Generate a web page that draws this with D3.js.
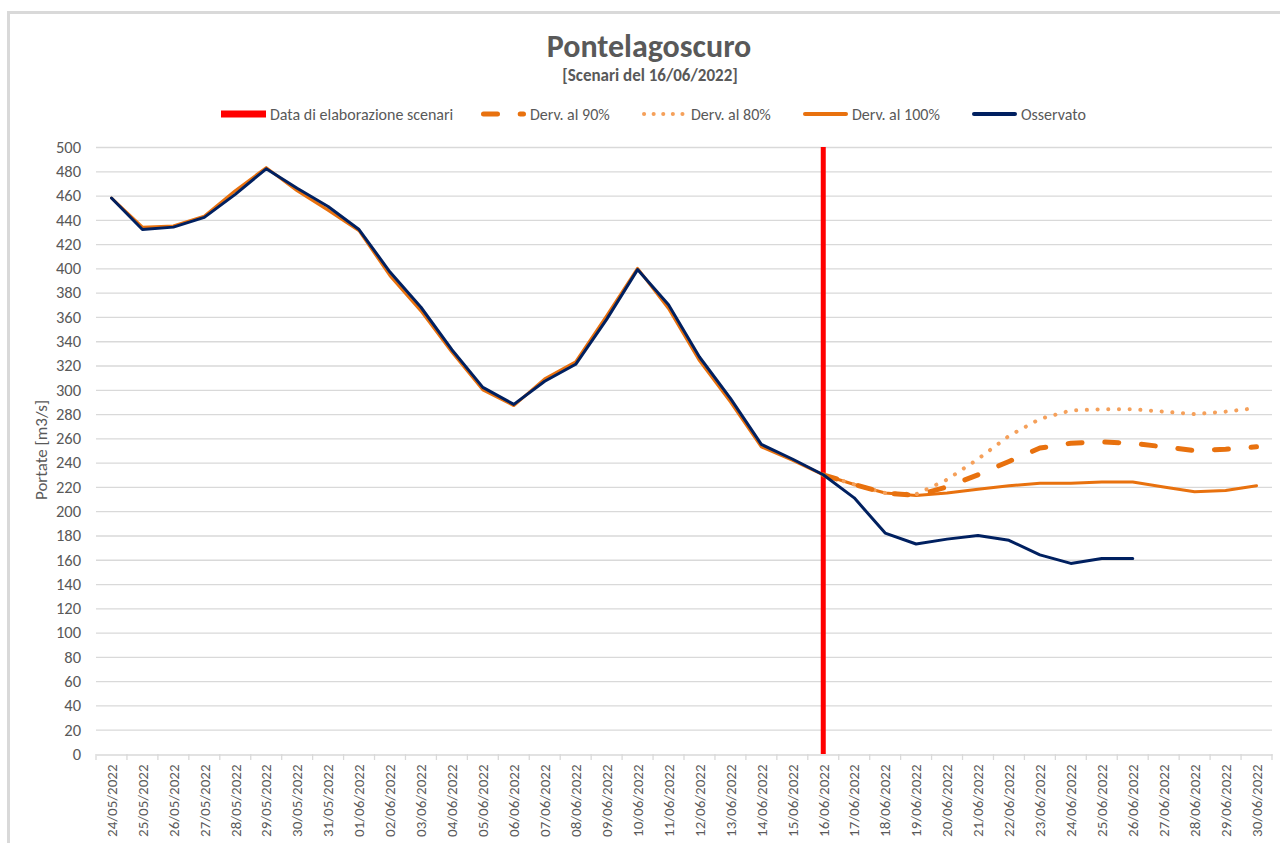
<!DOCTYPE html>
<html>
<head>
<meta charset="utf-8">
<script src="https://cdn.jsdelivr.net/npm/d3@7"></script>
<style>
    body { margin: 0; background: #fff; }
    #chart { width: 1280px; height: 843px; overflow: hidden; }
    text { font-family: Carlito, "Liberation Sans", Arial, sans-serif; fill: #595959; }
</style>
</head>
<body>
<div id="chart"></div>
<script>
"use strict";

// dates on the x axis
const dates = [
    "24/05/2022", "25/05/2022", "26/05/2022", "27/05/2022", "28/05/2022", "29/05/2022",
    "30/05/2022", "31/05/2022", "01/06/2022", "02/06/2022", "03/06/2022", "04/06/2022",
    "05/06/2022", "06/06/2022", "07/06/2022", "08/06/2022", "09/06/2022", "10/06/2022",
    "11/06/2022", "12/06/2022", "13/06/2022", "14/06/2022", "15/06/2022", "16/06/2022",
    "17/06/2022", "18/06/2022", "19/06/2022", "20/06/2022", "21/06/2022", "22/06/2022",
    "23/06/2022", "24/06/2022", "25/06/2022", "26/06/2022", "27/06/2022", "28/06/2022",
    "29/06/2022", "30/06/2022"
];

// portate [m3/s], null where there is no value
const osservato = [
    458, 432, 434, 442, 461, 482, 466, 451, 432, 397, 368, 333,
    302, 288, 307, 321, 358, 399, 370, 327, 293, 255, 243, 230,
    211, 182, 173, 177, 180, 176, 164, 157, 161, 161, null, null,
    null, null
];

const derv100 = [
    458, 434, 435, 443, 464, 483, 464, 448, 431, 394, 365, 331,
    300, 287, 309, 323, 361, 400, 367, 324, 290, 253, 242, 230,
    222, 215, 213, 215, 218, 221, 223, 223, 224, 224, 220, 216,
    217, 221
];

const derv90 = [
    null, null, null, null, null, null, null, null, null, null, null, null,
    null, null, null, null, null, null, null, null, null, null, null, 230,
    222, 215, 213, 220, 230, 241, 252, 256, 257, 256, 253, 250,
    251, 253
];

const derv80 = [
    null, null, null, null, null, null, null, null, null, null, null, null,
    null, null, null, null, null, null, null, null, null, null, null, 230,
    222, 215, 214, 226, 243, 262, 276, 283, 284, 284, 282, 280,
    282, 285
];

const dataElaborazione = "16/06/2022";
const yTicks = d3.range(0, 501, 20);
const legendNames = ["Data di elaborazione scenari", "Derv. al 90%", "Derv. al 80%", "Derv. al 100%", "Osservato"];

(function () {
    const width = 1280;
    const height = 843;
    const left = 96, right = 1272, top = 147, bottom = 754;

    const red = "#ff0000";
    const orange = "#e8710e";
    const lightOrange = "#f5a05a";
    const navy = "#002060";
    const grid = "#d9d9d9";

    const svg = d3.select("#chart")
        .append("svg")
        .attr("width", width)
        .attr("height", height);

    // outer frame of the chart
    svg.append("rect")
        .attr("x", 8.5)
        .attr("y", 12.5)
        .attr("width", 1300)
        .attr("height", 900)
        .attr("fill", "none")
        .attr("stroke", grid)
        .attr("stroke-width", 3);

    const x = d3.scaleBand().domain(dates).range([left, right]).padding(0);
    const y = d3.scaleLinear().domain([0, 500]).range([bottom, top]);
    const cx = d => x(d) + x.bandwidth() / 2;

    // gridlines
    svg.append("g")
        .selectAll("line")
        .data(yTicks.filter(v => v > 0))
        .enter()
        .append("line")
        .attr("x1", left)
        .attr("x2", right)
        .attr("y1", d => y(d) + 0.5)
        .attr("y2", d => y(d) + 0.5)
        .attr("stroke", grid)
        .attr("stroke-width", 1.3);

    // y axis labels
    const yAxis = d3.axisLeft(y).tickValues(yTicks).tickSize(0).tickPadding(15);
    const gy = svg.append("g")
        .attr("transform", `translate(${left},0)`)
        .call(yAxis);
    gy.select(".domain").remove();
    gy.selectAll("text")
        .style("font-size", "16.5px")
        .attr("fill", "#595959");

    // x axis
    const xAxis = d3.axisBottom(x).tickSize(0).tickPadding(0);
    const gx = svg.append("g")
        .attr("transform", `translate(0,${bottom + 0.5})`)
        .call(xAxis);
    gx.select(".domain").attr("stroke", grid).attr("stroke-width", 1.3);
    gx.selectAll(".tick text")
        .attr("transform", "rotate(-90)")
        .attr("x", -10)
        .attr("y", 0)
        .attr("dy", "0.35em")
        .style("text-anchor", "end")
        .style("font-size", "15px")
        .attr("fill", "#595959");

    // tick marks between categories
    svg.append("g")
        .selectAll("line")
        .data(dates.concat(["end"]))
        .enter()
        .append("line")
        .attr("x1", (d, i) => left + i * x.bandwidth())
        .attr("x2", (d, i) => left + i * x.bandwidth())
        .attr("y1", bottom)
        .attr("y2", bottom + 6)
        .attr("stroke", grid)
        .attr("stroke-width", 1.3);

    // vertical red line: scenario date
    svg.append("line")
        .attr("x1", cx(dataElaborazione))
        .attr("x2", cx(dataElaborazione))
        .attr("y1", y(500))
        .attr("y2", y(0))
        .attr("stroke", red)
        .attr("stroke-width", 5);

    const line = d3.line()
        .defined(d => d !== null)
        .x((d, i) => cx(dates[i]))
        .y(d => y(d));

    function addSeries(values, color, widthPx, dash) {
        const p = svg.append("path")
            .datum(values)
            .attr("d", line)
            .attr("fill", "none")
            .attr("stroke", color)
            .attr("stroke-width", widthPx)
            .attr("stroke-linejoin", "round")
            .attr("stroke-linecap", "round");
        if (dash) {
            p.attr("stroke-dasharray", dash);
        }
    }

    addSeries(derv100, orange, 3, null);
    addSeries(derv80, lightOrange, 4, "0.1,10.6");
    addSeries(derv90, orange, 5, "14,22.7");
    addSeries(osservato, navy, 3, null);

    // titles
    svg.append("text")
        .attr("x", 649)
        .attr("y", 57)
        .attr("text-anchor", "middle")
        .style("font-size", "32px")
        .style("font-weight", "bold")
        .text("Pontelagoscuro");

    svg.append("text")
        .attr("x", 650)
        .attr("y", 81)
        .attr("text-anchor", "middle")
        .style("font-size", "17px")
        .style("font-weight", "bold")
        .text("[Scenari del 16/06/2022]");

    // y axis title
    svg.append("text")
        .attr("transform", "translate(47,450)rotate(-90)")
        .attr("text-anchor", "middle")
        .style("font-size", "17px")
        .text("Portate [m3/s]");

    // legend
    const legendX = [221, 481, 642, 803, 972];
    const legendY = 114;
    const sampleW = 45;
    const legendStyle = [
        { color: red, w: 7, dash: null, cap: "butt" },
        { color: orange, w: 5, dash: "14,22.7", cap: "round" },
        { color: lightOrange, w: 4, dash: "0.1,9.5", cap: "round" },
        { color: orange, w: 4, dash: null, cap: "round" },
        { color: navy, w: 4, dash: null, cap: "round" }
    ];
    const legend = svg.append("g");
    legendNames.forEach(function (name, i) {
        const s = legendStyle[i];
        const inset = s.cap === "round" ? s.w / 2 : 0;
        const l = legend.append("line")
            .attr("x1", legendX[i] + inset)
            .attr("x2", legendX[i] + sampleW - inset)
            .attr("y1", legendY)
            .attr("y2", legendY)
            .attr("stroke", s.color)
            .attr("stroke-width", s.w)
            .attr("stroke-linecap", s.cap);
        if (s.dash) {
            l.attr("stroke-dasharray", s.dash);
        }
        legend.append("text")
            .attr("x", legendX[i] + sampleW + 4)
            .attr("y", legendY)
            .attr("dy", "0.35em")
            .style("font-size", "16px")
            .text(name);
    });
})();
</script>
</body>
</html>
